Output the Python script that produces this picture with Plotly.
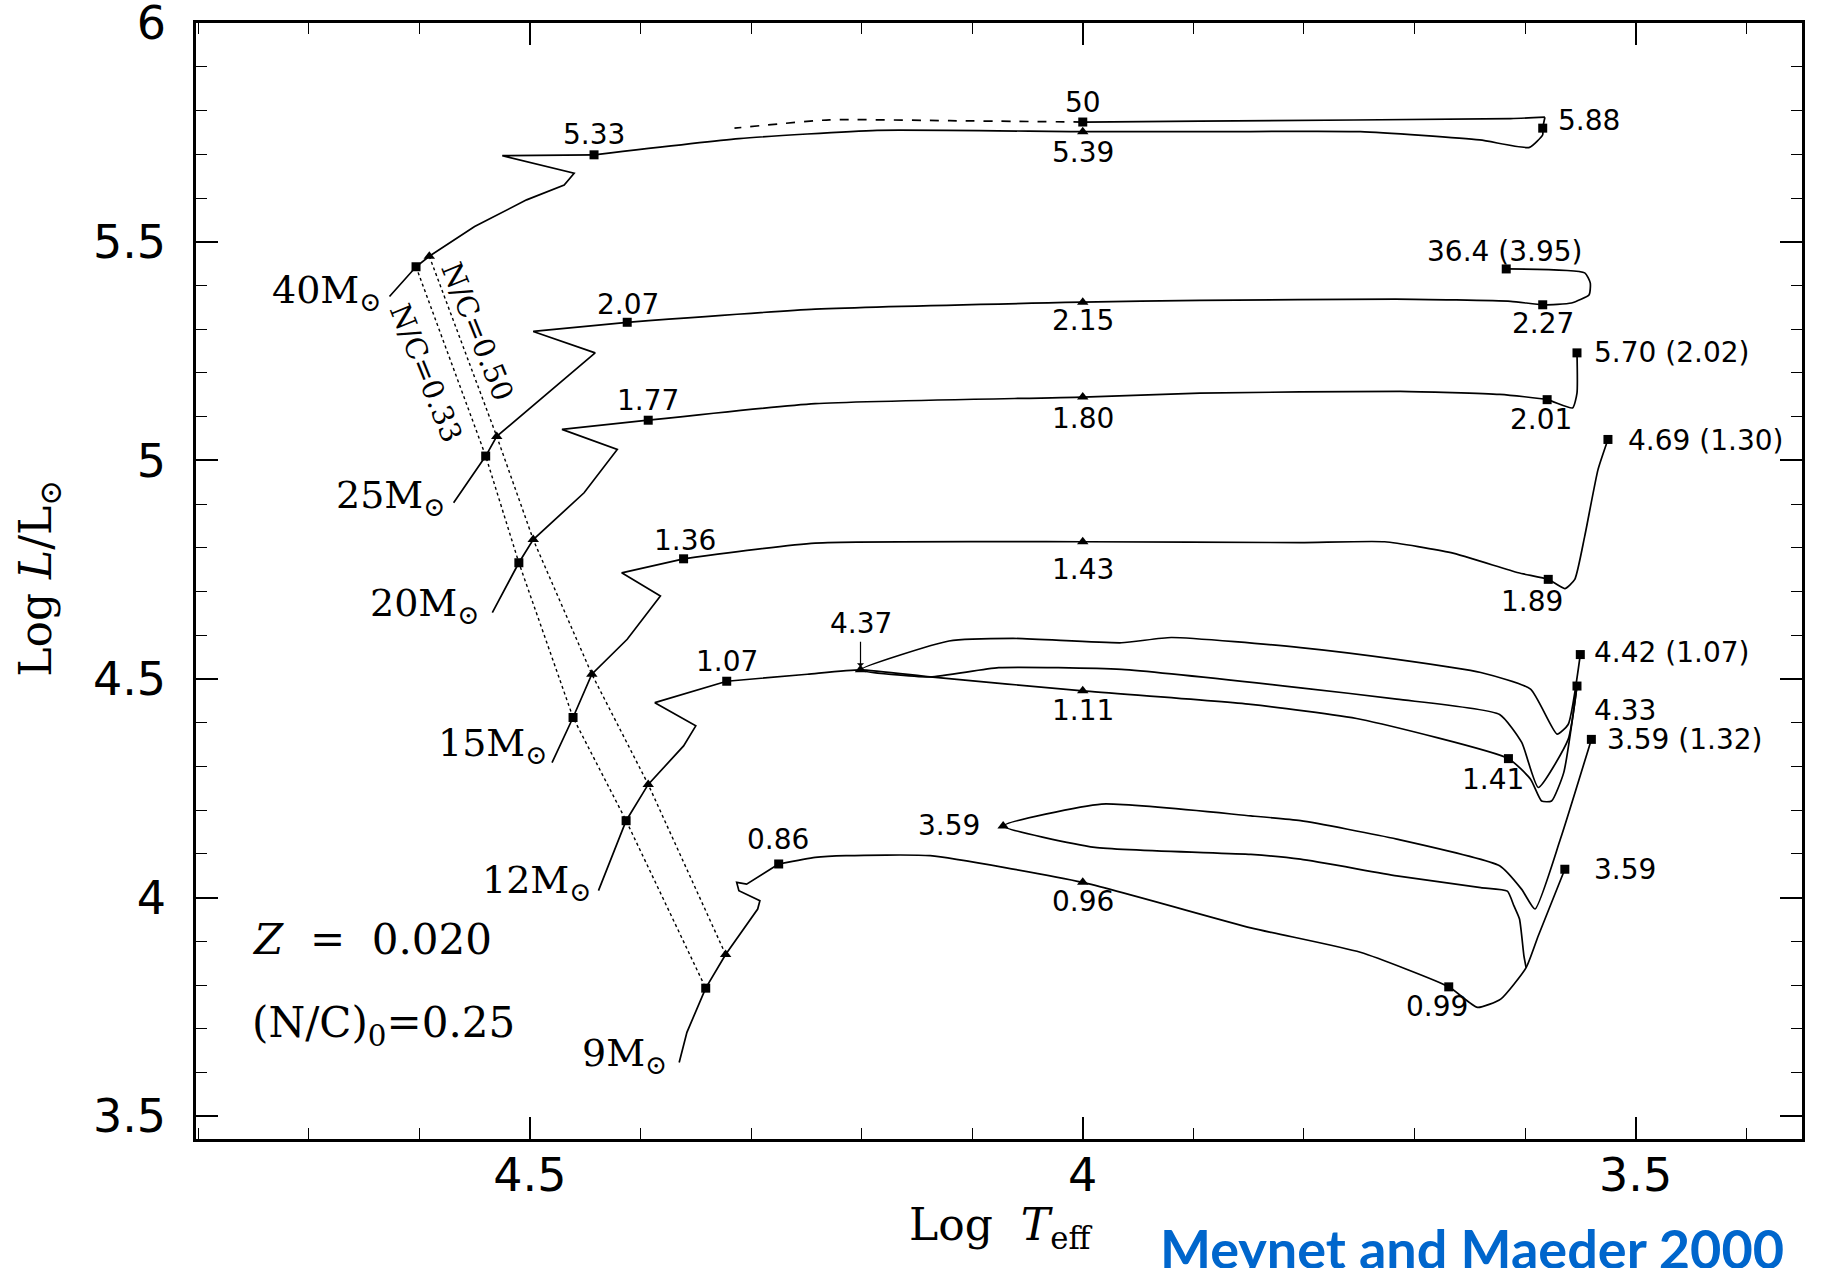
import plotly.graph_objects as go

# ---------------- Evolutionary tracks: log Teff and log L/Lsun ----------------
# 40 Msun
m40_logt = [4.627, 4.603, 4.591, 4.550, 4.503, 4.469, 4.460, 4.525, 4.442, 4.311,
            4.186, 4.000, 3.876, 3.749, 3.641, 3.596, 3.584, 3.584, 3.582]
m40_logl = [5.375, 5.443, 5.467, 5.535, 5.596, 5.630, 5.657, 5.697, 5.699, 5.736,
            5.755, 5.752, 5.752, 5.752, 5.733, 5.716, 5.745, 5.760, 5.785]
m40_back_logt = [3.582, 3.613, 3.894, 4.000]
m40_back_logl = [5.785, 5.782, 5.776, 5.774]
m40_dash_logt = [4.000, 4.120, 4.229, 4.315]
m40_dash_logl = [5.774, 5.777, 5.779, 5.760]

# 25 Msun
m25_logt = [4.569, 4.540, 4.530, 4.494, 4.441, 4.497, 4.412, 4.242, 4.000, 3.894,
            3.717, 3.613, 3.584, 3.558, 3.542, 3.541, 3.546, 3.617]
m25_logl = [4.903, 5.010, 5.055, 5.132, 5.246, 5.295, 5.316, 5.346, 5.362, 5.366,
            5.369, 5.364, 5.356, 5.360, 5.379, 5.406, 5.429, 5.438]

# 20 Msun
m20_logt = [4.534, 4.510, 4.497, 4.451, 4.421, 4.471, 4.393, 4.242, 4.000, 3.894,
            3.713, 3.623, 3.580, 3.557, 3.553, 3.553]
m20_logl = [4.652, 4.766, 4.819, 4.926, 5.025, 5.071, 5.092, 5.130, 5.145, 5.154,
            5.158, 5.151, 5.139, 5.120, 5.154, 5.246]

# 15 Msun
m15_logt = [4.480, 4.461, 4.444, 4.412, 4.382, 4.417, 4.361, 4.242, 4.000, 3.803,
            3.727, 3.667, 3.606, 3.579, 3.564, 3.555, 3.546, 3.534, 3.525]
m15_logl = [4.309, 4.412, 4.511, 4.591, 4.690, 4.743, 4.775, 4.811, 4.814, 4.812,
            4.814, 4.789, 4.743, 4.728, 4.707, 4.728, 4.827, 4.979, 5.048]

# 12 Msun: first crossing, then the blue loop
m12_logt = [4.438, 4.413, 4.393, 4.361, 4.350, 4.387, 4.322, 4.249, 4.201, 4.138,
            4.000, 3.848, 3.749, 3.615, 3.595, 3.585, 3.576, 3.565, 3.553]
m12_logl = [4.016, 4.176, 4.259, 4.347, 4.393, 4.446, 4.495, 4.511, 4.521, 4.505,
            4.473, 4.442, 4.408, 4.318, 4.271, 4.221, 4.221, 4.286, 4.484]
m12_loop_logt = [3.553, 3.561, 3.588, 3.603, 3.623, 3.716, 3.803, 3.965, 4.076, 4.138,
                 4.201, 4.121, 4.063, 3.965, 3.920, 3.803, 3.716, 3.640, 3.595, 3.571,
                 3.561, 3.550]
m12_loop_logl = [4.484, 4.362, 4.252, 4.355, 4.419, 4.454, 4.480, 4.522, 4.526, 4.505,
                 4.521, 4.587, 4.593, 4.583, 4.595, 4.572, 4.545, 4.515, 4.477, 4.374,
                 4.396, 4.556]

# 9 Msun: first crossing, then the blue loop
m9_logt = [4.365, 4.358, 4.341, 4.323, 4.294, 4.292, 4.311, 4.313, 4.304, 4.275,
           4.242, 4.214, 4.138, 4.000, 3.848, 3.749, 3.669, 3.643, 3.622, 3.599,
           3.588, 3.564]
m9_logl = [3.623, 3.692, 3.793, 3.870, 3.974, 3.993, 4.016, 4.035, 4.031, 4.077,
           4.092, 4.096, 4.096, 4.035, 3.931, 3.875, 3.796, 3.749, 3.768, 3.840,
           3.913, 4.065]
m9_loop_logt = [3.599, 3.601, 3.605, 3.610, 3.616, 3.640, 3.716, 3.803, 3.848, 3.989,
                4.072, 3.983, 3.848, 3.803, 3.716, 3.623, 3.603, 3.591, 3.568, 3.540]
m9_loop_logl = [3.840, 3.867, 3.951, 3.981, 4.015, 4.023, 4.050, 4.088, 4.099, 4.115,
                4.164, 4.214, 4.187, 4.176, 4.134, 4.073, 4.019, 3.974, 4.134, 4.362]

# Surface N/C iso-lines across the main sequence
nc050_logt = [4.591, 4.530, 4.497, 4.444, 4.393, 4.323]
nc050_logl = [5.467, 5.055, 4.819, 4.511, 4.259, 3.870]
nc033_logt = [4.603, 4.540, 4.510, 4.461, 4.413, 4.341]
nc033_logl = [5.443, 5.010, 4.766, 4.412, 4.176, 3.793]

# Age markers (squares) and crossings of log Teff = 4 (triangles)
square_logt = [4.442, 4.000, 3.584, 4.412, 3.584, 3.617, 4.393, 3.580, 3.553,
               4.361, 3.579, 3.525, 4.322, 3.615, 3.553, 3.550, 4.275, 3.669,
               3.564, 3.540]
square_logl = [5.699, 5.774, 5.760, 5.316, 5.356, 5.438, 5.092, 5.139, 5.246,
               4.775, 4.728, 5.048, 4.495, 4.318, 4.484, 4.556, 4.077, 3.796,
               4.065, 4.362]
triangle_logt = [4.000, 4.000, 4.000, 4.000, 4.000, 4.000, 4.072, 4.201]
triangle_logl = [5.752, 5.362, 5.145, 4.814, 4.473, 4.035, 4.164, 4.521]

# Age annotations: text, log Teff, log L, horizontal anchor
age_text = ["5.33", "50", "5.39", "5.88", "36.4 (3.95)", "2.07", "2.15", "2.27",
            "5.70 (2.02)", "1.77", "1.80", "2.01", "4.69 (1.30)", "1.36", "1.43",
            "1.89", "1.07", "1.11", "4.42 (1.07)", "4.33", "1.41", "3.59 (1.32)",
            "3.59", "0.86", "0.96", "3.59", "0.99"]
age_logt = [4.442, 4.000, 4.000, 3.572, 3.619, 4.411, 4.000, 3.584,
            3.539, 4.393, 4.000, 3.586, 3.509, 4.360, 4.000,
            3.594, 4.322, 4.000, 3.539, 3.539, 3.629, 3.528,
            4.121, 4.276, 4.000, 3.539, 3.680]
age_logl = [5.745, 5.819, 5.705, 5.777, 5.479, 5.356, 5.319, 5.314,
            5.247, 5.136, 5.096, 5.093, 5.045, 4.816, 4.750,
            4.678, 4.540, 4.428, 4.561, 4.428, 4.271, 4.362,
            4.165, 4.133, 3.992, 4.064, 3.750]
age_anchor = ["center", "center", "center", "left", "center", "center", "center", "center",
              "left", "center", "center", "center", "left", "center", "center",
              "center", "center", "center", "left", "left", "center", "left",
              "center", "center", "center", "left", "center"]

# Initial-mass labels at the ZAMS end of each track
mass_text = ["40M<sub>⊙</sub>", "25M<sub>⊙</sub>", "20M<sub>⊙</sub>",
             "15M<sub>⊙</sub>", "12M<sub>⊙</sub>", "9M<sub>⊙</sub>"]
mass_logt = [4.632, 4.574, 4.543, 4.482, 4.442, 4.374]
mass_logl = [5.383, 4.915, 4.668, 4.348, 4.035, 3.638]

fig = go.Figure()


def add_line(x, y, dash="solid", width=1.7, shape="linear"):
    fig.add_trace(go.Scatter(x=x, y=y, mode="lines", hoverinfo="skip",
                             line=dict(color="black", width=width, dash=dash,
                                       shape=shape, smoothing=0.5)))


# main sequence and hook drawn with straight segments, later phases smoothed
for xs, ys, k in [(m40_logt, m40_logl, 8), (m25_logt, m25_logl, 6),
                  (m20_logt, m20_logl, 6), (m15_logt, m15_logl, 6),
                  (m12_logt, m12_logl, 6), (m9_logt, m9_logl, 9)]:
    add_line(xs[:k + 1], ys[:k + 1])
    add_line(xs[k:], ys[k:], shape="spline")
for xs, ys in [(m40_back_logt, m40_back_logl), (m12_loop_logt, m12_loop_logl),
               (m9_loop_logt, m9_loop_logl)]:
    add_line(xs, ys, shape="spline")
add_line(m40_dash_logt, m40_dash_logl, dash="dash", width=1.7, shape="spline")
add_line(nc050_logt, nc050_logl, dash="dot", width=1.4)
add_line(nc033_logt, nc033_logl, dash="dot", width=1.4)

fig.add_trace(go.Scatter(x=square_logt + nc033_logt, y=square_logl + nc033_logl,
                         mode="markers", hoverinfo="skip",
                         marker=dict(symbol="square", size=9, color="black")))
fig.add_trace(go.Scatter(x=triangle_logt + nc050_logt, y=triangle_logl + nc050_logl,
                         mode="markers", hoverinfo="skip",
                         marker=dict(symbol="triangle-up", size=10, color="black")))

SANS = "DejaVu Sans"
SERIF = "DejaVu Serif"
annotations = []
for t, x, y, a in zip(age_text, age_logt, age_logl, age_anchor):
    annotations.append(dict(x=x, y=y, xref="x", yref="y", text=t, showarrow=False,
                            xanchor=a, yanchor="middle",
                            font=dict(family=SANS, size=28, color="black")))

# arrow marking the start of the 12 Msun blue loop
annotations.append(dict(x=4.201, y=4.521, xref="x", yref="y", text="4.37",
                        showarrow=True, ax=0, ay=-46, arrowhead=1, arrowsize=1,
                        arrowwidth=1.2, arrowcolor="black", standoff=3,
                        font=dict(family=SANS, size=28, color="black")))

for t, x, y in zip(mass_text, mass_logt, mass_logl):
    annotations.append(dict(x=x, y=y, xref="x", yref="y", text=t, showarrow=False,
                            xanchor="right", yanchor="middle",
                            font=dict(family=SERIF, size=38, color="black")))

annotations += [
    dict(x=4.548, y=5.295, xref="x", yref="y", text="N/C=0.50", showarrow=False,
         textangle=68, font=dict(family=SERIF, size=29, color="black")),
    dict(x=4.594, y=5.200, xref="x", yref="y", text="N/C=0.33", showarrow=False,
         textangle=68, font=dict(family=SERIF, size=29, color="black")),
    dict(x=4.753, y=3.904, xref="x", yref="y", text="<i>Z</i>\u00a0 = \u00a00.020",
         showarrow=False, xanchor="left", yanchor="middle",
         font=dict(family=SERIF, size=42, color="black")),
    dict(x=4.753, y=3.707, xref="x", yref="y", text="(N/C)<sub>0</sub>=0.25",
         showarrow=False, xanchor="left", yanchor="middle",
         font=dict(family=SERIF, size=42, color="black")),
    dict(x=-0.098, y=0.5025, xref="paper", yref="paper",
         text="Log <i>L</i>/L<sub>⊙</sub>", showarrow=False, textangle=-90,
         xanchor="center", yanchor="middle",
         font=dict(family=SERIF, size=44, color="black")),
    dict(x=0.501, y=-0.0795, xref="paper", yref="paper",
         text="Log\u00a0 <i>T</i><sub>eff</sub>", showarrow=False,
         xanchor="center", yanchor="middle",
         font=dict(family=SERIF, size=44, color="black")),
    dict(x=0.599, y=-0.067, xref="paper", yref="paper",
         text="<b>Meynet and Maeder 2000</b>", showarrow=False,
         xanchor="left", yanchor="top",
         font=dict(family="Lato", size=54, color="#0066CC")),
]

axis_common = dict(
    showgrid=False, zeroline=False, showline=True, linecolor="black", linewidth=2.5,
    mirror="ticks", ticks="inside", ticklen=22, tickwidth=1.6, tickcolor="black",
    dtick=0.5, tickfont=dict(family=SANS, size=46, color="black"),
    ticklabeloverflow="allow", automargin=False,
    minor=dict(ticks="inside", ticklen=11, tickwidth=1.4, tickcolor="black", dtick=0.1),
)

fig.update_layout(
    width=1825, height=1268,
    margin=dict(l=196, r=23, t=23, b=129, autoexpand=False),
    paper_bgcolor="white", plot_bgcolor="white",
    showlegend=False,
    xaxis=dict(range=[4.802, 3.3495], tick0=3.5, ticklabelstandoff=-6, **axis_common),
    yaxis=dict(range=[3.448, 6.0005], tick0=3.5, ticklabelstandoff=18, **axis_common),
    annotations=annotations,
)

fig.write_html("out.html")
